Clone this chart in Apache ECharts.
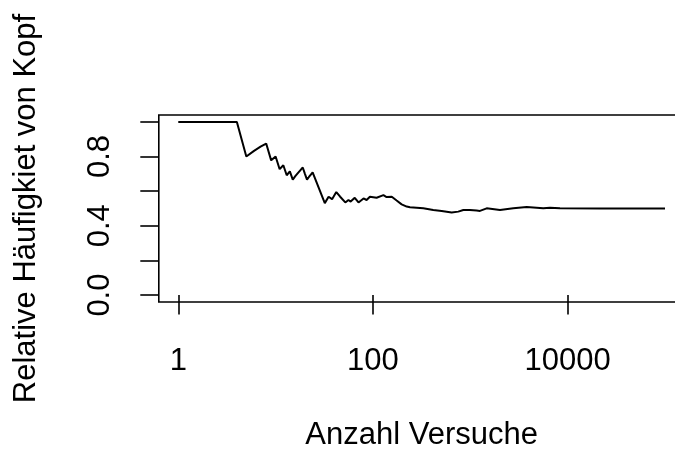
<!DOCTYPE html>
<html>
<head>
<meta charset="utf-8">
<script src="https://cdn.jsdelivr.net/npm/echarts@6/dist/echarts.min.js"></script>
<style>
html,body{margin:0;padding:0;background:#fff;overflow:hidden;}
#chart{width:720px;height:452px;}
</style>
</head>
<body>
<div id="chart"></div>
<script>
// Number of trials (x, log scale) and relative frequency of heads
const trials = [1, 2, 3, 4, 5, 6, 7, 8, 9, 10, 11, 12, 13, 14, 15, 16, 17, 18, 19, 20, 21, 22, 23, 24,
  32, 35, 38, 42, 46, 52, 56, 59, 65, 71, 80, 86, 93, 109, 128, 138, 156, 175, 197, 222, 240, 281,
  329, 416, 508, 643, 752, 847, 991, 1161, 1256, 1472, 2017, 2763, 3794, 5613, 6577, 8337, 21500, 100000];
const freq = [1, 1, 1, 1, 0.8, 0.833, 0.857, 0.875, 0.778, 0.8, 0.727, 0.75, 0.692, 0.714, 0.667,
  0.688, 0.706, 0.722, 0.737, 0.7, 0.667, 0.682, 0.696, 0.708,
  0.531, 0.568, 0.554, 0.595, 0.568, 0.535, 0.549, 0.54, 0.562, 0.535, 0.558, 0.549, 0.568, 0.562,
  0.577, 0.566, 0.568, 0.546, 0.524, 0.511, 0.507, 0.505, 0.501, 0.491, 0.486, 0.477, 0.482, 0.491,
  0.491, 0.488, 0.486, 0.501, 0.491, 0.501, 0.508, 0.501, 0.505, 0.501, 0.5, 0.5];
const xTicks = [1, 100, 10000];
const yTicks = [0, 0.2, 0.4, 0.6, 0.8, 1.0];
const yLabels = [0, 0.4, 0.8];
const xTitle = 'Anzahl Versuche';
const yTitle = 'Relative Häufigkiet von Kopf';

const seriesData = trials.map((n, i) => [n, freq[i]]);
const FONT = 'Liberation Sans, Arial, Helvetica, sans-serif';

const chart = echarts.init(document.getElementById('chart'), null, {renderer: 'canvas'});
chart.setOption({
  animation: false,
  backgroundColor: '#fff',
  grid: {
    left: 158.8, top: 115, width: 525.7, height: 189.3,
    show: true, borderColor: '#000', borderWidth: 1.6, backgroundColor: 'transparent'
  },
  xAxis: {
    type: 'log',
    logBase: 10,
    min: Math.pow(10, -0.2),
    max: Math.pow(10, 5.2),
    name: xTitle,
    nameLocation: 'middle',
    nameGap: 118,
    nameTextStyle: {fontFamily: FONT, fontSize: 31, color: '#000'},
    axisLine: {show: false},
    axisTick: {show: true, customValues: xTicks, length: 19.5, lineStyle: {color: '#000', width: 1.6}},
    axisLabel: {
      customValues: xTicks, margin: 44,
      fontFamily: FONT, fontSize: 31, color: '#000',
      formatter: v => String(Math.round(v))
    },
    splitLine: {show: false},
    minorTick: {show: false}
  },
  yAxis: {
    type: 'value',
    min: -0.04,
    max: 1.04,
    name: yTitle,
    nameLocation: 'middle',
    nameRotate: 90,
    nameGap: 117,
    nameTextStyle: {fontFamily: FONT, fontSize: 31, color: '#000'},
    axisLine: {show: false},
    axisTick: {show: true, customValues: yTicks, length: 18.5, lineStyle: {color: '#000', width: 1.6}},
    axisLabel: {
      customValues: yLabels, rotate: 90, margin: 43,
      fontFamily: FONT, fontSize: 31, color: '#000',
      formatter: v => Number(v).toFixed(1)
    },
    splitLine: {show: false}
  },
  series: [{
    type: 'line',
    data: seriesData,
    showSymbol: false,
    symbol: 'none',
    lineStyle: {color: '#000', width: 2},
    silent: true
  }]
});
</script>
</body>
</html>
